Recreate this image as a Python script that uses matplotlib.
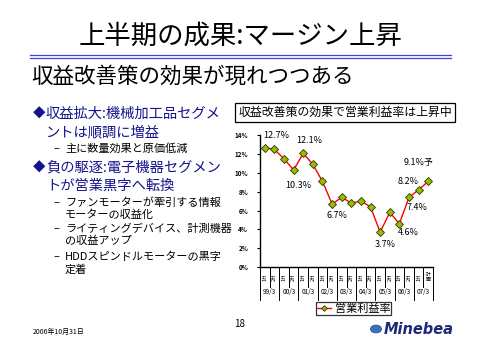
import matplotlib.pyplot as plt
from matplotlib.patches import Circle

plt.rcParams['font.family'] = ['Noto Sans CJK JP', 'DejaVu Sans']

# data
periods = ['1H', '2H'] * 8 + ['1H', '計\n画']
years = ['99/3', '00/3', '01/3', '02/3', '03/3', '04/3', '05/3', '06/3', '07/3']
margin = [12.7, 12.5, 11.5, 10.3, 12.1, 10.9, 9.1, 6.7, 7.4, 6.8,
          7.0, 6.4, 3.7, 5.8, 4.6, 7.4, 8.2, 9.1]
label_idx = [0, 3, 4, 7, 12, 14, 15, 16, 17]
label_suffix = ['', '', '', '', '', '', '', '', '予']
# label offsets in pixels (dx, dy up)
label_off = [(11, 12), (5, -15), (6, 13), (5, -12), (5, -12),
             (9, -9), (8, -10), (-10, 8), (-10, 19)]

W, H = 480, 340
fig = plt.figure(figsize=(W / 100, H / 100), dpi=100)


def fx(x):
    return x / W


def fy(y):
    return 1 - y / H


navy = '#14148c'

# title and rule
fig.text(fx(240), fy(36), '上半期の成果:マージン上昇', fontsize=19,
         ha='center', va='center')
fig.add_artist(plt.Line2D([fx(30), fx(451)], [fy(55), fy(55)],
                          color='#4040d8', lw=0.9))
fig.add_artist(plt.Line2D([fx(30), fx(451)], [fy(57.5), fy(57.5)],
                          color='#4040d8', lw=0.9))
fig.text(fx(31), fy(77), '収益改善策の効果が現れつつある', fontsize=15.5,
         ha='left', va='center')

# bullet text
main_lines = [(114, '◆', '収益拡大:機械加工品セグメ'),
              (132, '', 'ントは順調に増益'),
              (168, '◆', '負の駆逐:電子機器セグメン'),
              (186, '', 'トが営業黒字へ転換')]
for y, mark, txt in main_lines:
    if mark:
        fig.text(fx(33), fy(y), mark, fontsize=9, color=navy,
                 ha='left', va='center')
    fig.text(fx(46), fy(y), txt, fontsize=10.3, color=navy,
             ha='left', va='center')

sub_lines = [(149, True, '主に数量効果と原価低減'),
             (203, True, 'ファンモーターが牽引する情報'),
             (215, False, 'モーターの収益化'),
             (229, True, 'ライティングデバイス、計測機器'),
             (241, False, 'の収益アップ'),
             (257, True, 'HDDスピンドルモーターの黒字'),
             (269, False, '定着')]
for y, dash, txt in sub_lines:
    if dash:
        fig.text(fx(53), fy(y), '–', fontsize=8, ha='left', va='center')
    fig.text(fx(65), fy(y), txt, fontsize=8, ha='left', va='center')

# chart title box
fig.text(fx(345), fy(112.5), '収益改善策の効果で営業利益率は上昇中',
         fontsize=8.6, ha='center', va='center',
         bbox=dict(boxstyle='square,pad=0.25', fc='white', ec='black', lw=0.9))

# chart
ax = fig.add_axes([fx(260), fy(267), (433 - 260) / W, (267 - 135.3) / H])
x = list(range(len(margin)))
ax.plot(x, margin, color='red', lw=1.0, marker='D', markersize=3.6,
        markerfacecolor='#99bb00', markeredgecolor='#333300',
        markeredgewidth=0.6, label='営業利益率')
ax.set_xlim(-0.5, len(margin) - 0.5)
ax.set_ylim(0, 14)
ax.set_yticks(range(0, 15, 2))
ax.set_yticklabels([f'{v}%' for v in range(0, 15, 2)], fontsize=4.5,
                   fontweight='bold')
ax.tick_params(axis='y', length=2.5, width=0.8, pad=6)
ax.tick_params(axis='x', length=0, labelbottom=False)
for s in ['top', 'right']:
    ax.spines[s].set_visible(False)
for s in ['left', 'bottom']:
    ax.spines[s].set_linewidth(1.0)

for k, i in enumerate(label_idx):
    dx, dy = label_off[k]
    ax.annotate(f'{margin[i]}%{label_suffix[k]}', (i, margin[i]),
                xytext=(dx * 0.72, dy * 0.72), textcoords='offset points',
                ha='center', va='center', fontsize=6.5)

# multi-level category axis
tr = ax.get_xaxis_transform()
for i in range(len(margin) + 1):
    bottom = -0.25 if i % 2 == 0 else -0.15
    ax.plot([i - 0.5, i - 0.5], [0, bottom], color='black', lw=0.7,
            transform=tr, clip_on=False)
for i, p in enumerate(periods):
    ax.text(i, -0.075, p, transform=tr, rotation=0 if '\n' in p else 90,
            ha='center', va='center', fontsize=3.6 if '\n' in p else 4.2,
            linespacing=0.9)
for j, yr in enumerate(years):
    ax.text(2 * j + 0.5, -0.19, yr, transform=tr, ha='center', va='center',
            fontsize=4.6)

leg = ax.legend(loc='center', bbox_to_anchor=(fx(353.5), fy(308.5)),
                bbox_transform=fig.transFigure, fontsize=8, frameon=True,
                fancybox=False, handlelength=1.3, handletextpad=0.3,
                borderpad=0.1, borderaxespad=0, markerscale=0.8)
leg.get_frame().set_edgecolor('black')
leg.get_frame().set_linewidth(0.9)

# footer
fig.text(fx(33), fy(332), '2006年10月31日', fontsize=5, style='italic',
         ha='left', va='center')
fig.text(fx(240), fy(324), '18', fontsize=7, ha='center', va='center')
fig.add_artist(Circle((fx(376), fy(329)), 5.5 / W, transform=fig.transFigure,
                      fc='#3a6fc0', ec='#1c3c80', lw=0.5))
fig.text(fx(384), fy(329), 'Minebea', fontsize=10.5, fontweight='bold',
         style='italic', color='#1e2a78', ha='left', va='center',
         family='DejaVu Sans')

fig.savefig('out.png', dpi=100)
